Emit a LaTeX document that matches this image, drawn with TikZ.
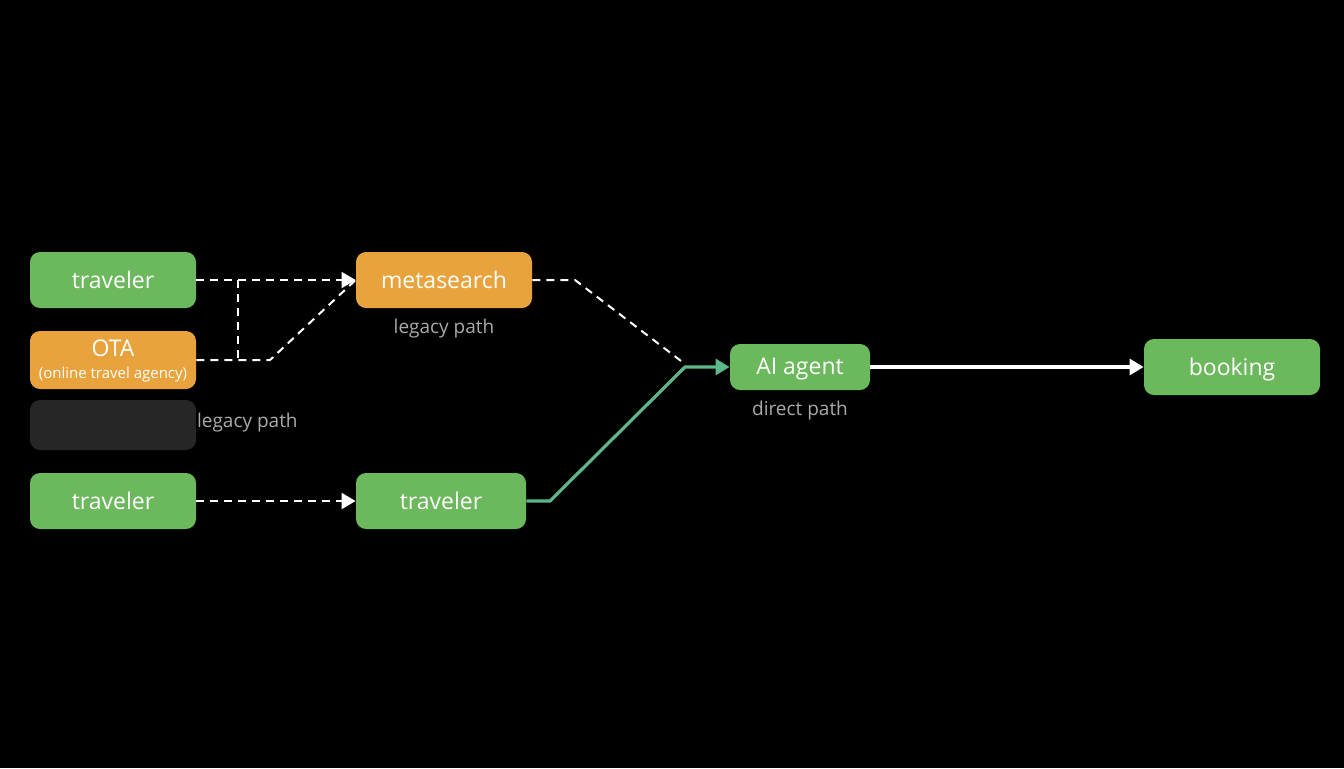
\documentclass[tikz,border=0pt]{standalone}
\usepackage{fontspec}
\setmainfont{Open Sans}
\usetikzlibrary{arrows.meta, positioning}
\definecolor{nodegreen}{RGB}{108, 184, 92}
\definecolor{nodeorange}{RGB}{232, 163, 61}
\definecolor{pathgreen}{RGB}{92, 184, 138}
\definecolor{labelgray}{RGB}{170, 170, 170}
\tikzset{
  stage/.style={rectangle, rounded corners=5pt, minimum width=83pt, minimum height=28pt, text=white, font=\fontsize{11.5}{13}\selectfont, inner sep=0pt, text depth=0.5pt},
  green stage/.style={stage, fill=nodegreen},
  orange stage/.style={stage, fill=nodeorange},
  note/.style={text=labelgray, font=\fontsize{9.5}{11}\selectfont},
  legacy/.style={white, line width=1pt, dash pattern=on 4pt off 3pt},
  arrow/.style={-{Triangle[length=7pt,width=8pt]}}
}
\begin{document}
\begin{tikzpicture}[x=0.5pt, y=-0.5pt]
\fill[black] (0,0) rectangle (1344,768);

% left column
\node[green stage] (trav_top) at (113,280) {traveler};
\node[orange stage, minimum height=29pt, align=center] (ota) at (113,360) {OTA\\[-2pt]{\fontsize{7.5}{8}\selectfont(online travel agency)}};
\node[stage, fill=black!85, minimum height=25pt] (blank) at (113,425) {};
\node[green stage] (trav_low) at (113,501) {traveler};
\node[note, anchor=west] (legacy_low) at (190,423) {legacy path};

% middle column
\node[orange stage, minimum width=88pt] (meta) at (444,280) {metasearch};
\node[note, below=2pt of meta] (legacy_top) {legacy path};
\node[green stage, minimum width=85pt] (trav_mid) at (441,501) {traveler};

% right side
\node[green stage, minimum width=70pt, minimum height=23pt] (agent) at (800,367) {AI agent};
\node[note, below=2pt of agent] (direct) {direct path};
\node[green stage, minimum width=88pt] (booking) at (1232,367) {booking};

% connectors
\draw[legacy, arrow] (trav_top.east) -- (meta.west);
\draw[legacy] (ota.east) -- (270,360) -- (meta.west);
\draw[legacy] (238,280) -- (238,360);
\draw[legacy] (meta.east) -- (575,280) -- (685,364);
\draw[legacy, arrow] (trav_low.east) -- (trav_mid.west);
\draw[pathgreen, line width=1.6pt, arrow] (trav_mid.east) -- (550,501) -- (685,367) -- (agent.west);
\draw[white, line width=1.6pt, arrow] (agent.east) -- (booking.west);
\end{tikzpicture}
\end{document}
